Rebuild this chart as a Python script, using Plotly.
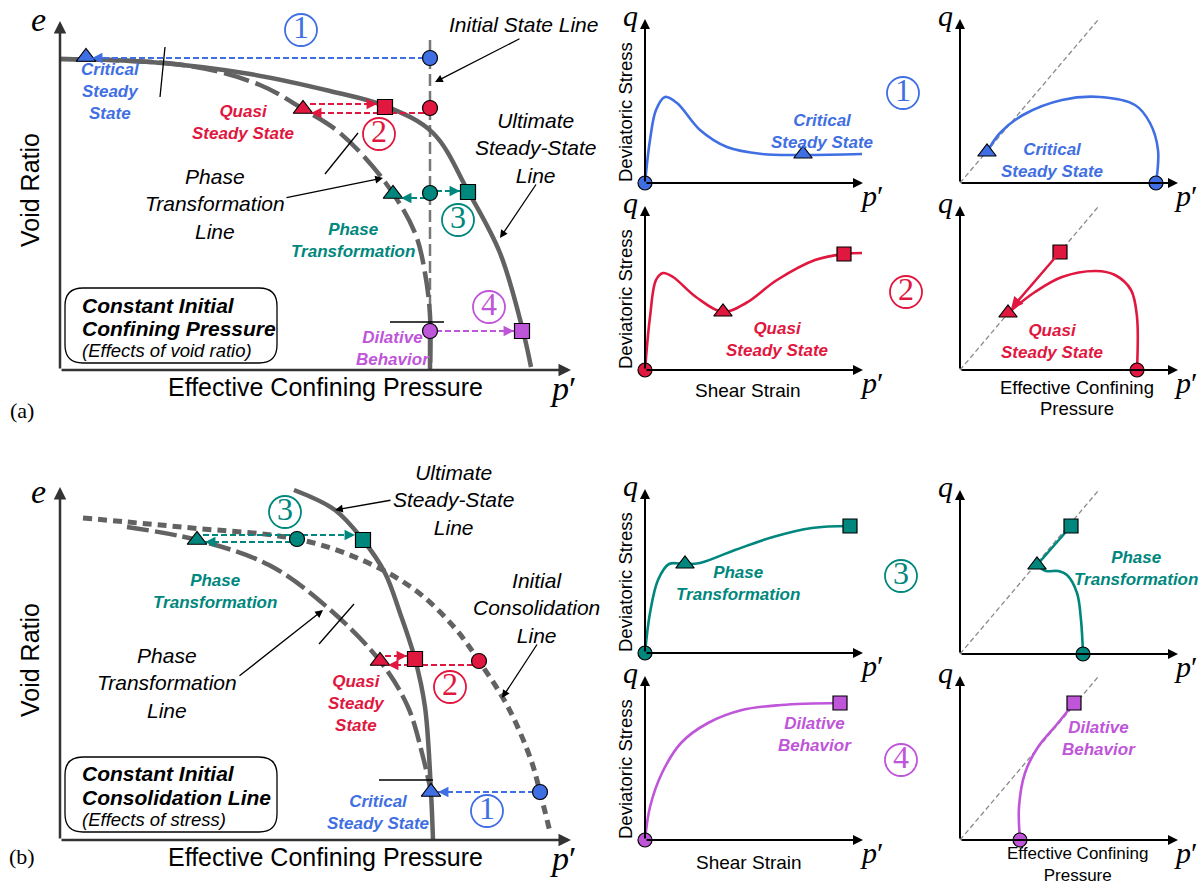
import plotly.graph_objects as go

W, H = 1198, 886
BLUE, RED, TEAL, PURPLE = "#3f6fe2", "#e0173f", "#00877d", "#bf55d9"
GRAY, LGRAY, DGRAY = "#626262", "#777777", "#8a8a8a"
SANS = "Liberation Sans, Arial, sans-serif"
SERIF = "Liberation Serif, Times New Roman, serif"

# ---------------- (a) constant initial confining pressure: e - p' plane ----------------
A_USSL_P = [0, 90, 190, 270, 325, 373, 409, 440, 463, 471]
A_USSL_E = [311, 308, 296, 279, 264, 237, 177, 117, 39, 3]
A_PTL_P = [0, 130, 200, 243, 280, 325, 355, 365, 370, 370]
A_PTL_E = [311, 304, 285, 261, 237, 188, 137, 97, 55, 0]
A_ISL_P = [370, 370]
A_ISL_E = [330, 0]
# initial states (circles) and end states (triangles / squares) for cases 1-4
A_START = {"1": (370, 312), "2": (370, 262), "3": (370, 177), "4": (370, 39)}
A_TRI = {"1": (26, 313), "2": (243, 261), "3": (333, 176)}
A_SQ = {"2": (325, 263), "3": (408, 178), "4": (462, 39)}

# ---------------- (b) constant initial consolidation line: e - p' plane ----------------
B_ICL_P = [23, 67, 132, 237, 302, 355, 394, 419, 448, 471, 480, 490]
B_ICL_E = [322, 318, 312, 301, 280, 250, 213, 179, 133, 80, 48, 8]
B_USSL_P = [234, 275, 303, 325, 340, 355, 365, 371, 373]
B_USSL_E = [350, 330, 300, 267, 227, 181, 133, 48, 0]
B_PTL_P = [67, 137, 209, 267, 320, 348, 363, 371]
B_PTL_E = [313, 300, 275, 233, 179, 133, 83, 48]
B_START = {"1": (480, 48), "2": (419, 179), "3": (237, 301)}
B_TRI = {"1": (371, 48), "2": (320, 179), "3": (137, 300)}
B_SQ = {"2": (355, 181), "3": (303, 300)}

# ---------------- stress-strain curves (q vs shear strain) ----------------
SS1_X = [0, 5, 11, 20, 32, 55, 82, 117, 158, 217]
SS1_Q = [0, 43, 73, 86, 80, 53, 36, 29, 28, 29]
SS2_X = [0, 5, 11, 18, 28, 51, 78, 101, 132, 170, 199, 217]
SS2_Q = [0, 53, 90, 97, 93, 73, 58, 67, 90, 110, 116, 117]
SS3_X = [0, 5, 13, 24, 40, 55, 90, 128, 167, 205]
SS3_Q = [0, 40, 73, 89, 89, 90, 103, 116, 125, 127]
SS4_X = [0, 5, 17, 36, 63, 97, 136, 195]
SS4_Q = [0, 33, 67, 97, 117, 130, 135, 137]

# ---------------- stress paths (q vs p') ----------------
SP1_P = [196, 198, 190, 175, 140, 102, 63, 40, 27]
SP1_Q = [0, 33, 60, 78, 86, 83, 68, 50, 31]
SP2_P = [177, 177, 171, 155, 136, 102, 75, 48]
SP2_Q = [0, 53, 80, 95, 99, 93, 78, 57]
SP2_SQ = (100, 118)
SP3_P = [123, 121, 117, 107, 98, 86, 77]
SP3_Q = [0, 34, 61, 79, 83, 83, 89]
SP3_SQ = (111, 128)
SP4_P = [60, 59, 65, 78, 98, 114]
SP4_Q = [0, 33, 67, 93, 117, 137]
CSL_P = [0, 138]
CSL_Q = [0, 163]

fig = go.Figure()
fig.update_layout(width=W, height=H, margin=dict(l=0, r=0, t=0, b=0),
                  paper_bgcolor="white", plot_bgcolor="rgba(0,0,0,0)", showlegend=False)

PANELS = {}


def add_panel(idx, ox, oy, x0, x1, y0, y1):
    s = "" if idx == 1 else str(idx)
    fig.layout["xaxis" + s] = dict(domain=[(ox + x0) / W, (ox + x1) / W], range=[x0, x1],
                                   visible=False, anchor="y" + s, fixedrange=True)
    fig.layout["yaxis" + s] = dict(domain=[1 - (oy - y0) / H, 1 - (oy - y1) / H], range=[y0, y1],
                                   visible=False, anchor="x" + s, fixedrange=True)
    PANELS[idx] = ("x" + s, "y" + s)


add_panel(1, 60, 370, -55, 530, -52, 365)     # (a) main
add_panel(2, 645, 183, -35, 285, -30, 178)    # (a) case 1 stress-strain
add_panel(3, 960, 183, -30, 236, -25, 178)    # (a) case 1 stress path
add_panel(4, 645, 370, -35, 285, -32, 178)    # (a) case 2 stress-strain
add_panel(5, 960, 370, -30, 236, -45, 178)    # (a) case 2 stress path
add_panel(6, 60, 840, -55, 540, -40, 370)     # (b) main
add_panel(7, 645, 653, -35, 285, -25, 178)    # (b) case 3 stress-strain
add_panel(8, 960, 654, -30, 236, -25, 178)    # (b) case 3 stress path
add_panel(9, 645, 840, -35, 285, -35, 178)    # (b) case 4 stress-strain
add_panel(10, 960, 840, -30, 236, -45, 178)   # (b) case 4 stress path

ann = []
shapes = []


def line(p, xs, ys, color, width, dash="solid", spline=True):
    xa, ya = PANELS[p]
    fig.add_trace(go.Scatter(x=xs, y=ys, xaxis=xa, yaxis=ya, mode="lines", hoverinfo="skip",
                             line=dict(color=color, width=width, dash=dash,
                                       shape="spline" if spline else "linear", smoothing=1.0)))


def marker(p, pt, color, symbol, size):
    xa, ya = PANELS[p]
    fig.add_trace(go.Scatter(x=[pt[0]], y=[pt[1]], xaxis=xa, yaxis=ya, mode="markers", cliponaxis=False,
                             hoverinfo="skip",
                             marker=dict(color=color, symbol=symbol, size=size,
                                         line=dict(color="black", width=1.2))))


def arrow(p, x0, y0, x1, y1, color="black", width=1.3, head=2, size=1.2):
    xa, ya = PANELS[p]
    ann.append(dict(x=x1, y=y1, ax=x0, ay=y0, xref=xa, yref=ya, axref=xa, ayref=ya, text="",
                    showarrow=True, arrowhead=head, arrowsize=size, arrowwidth=width, arrowcolor=color))


def dashed_arrow(p, x0, x1, y, color):
    line(p, [x0, x1], [y, y], color, 2.0, dash="6px,3px", spline=False)
    step = 8 if x1 > x0 else -8
    arrow(p, x1 - step, y, x1, y, color=color, width=1.9, head=2, size=1.1)


def text(p, x, y, s, size, color="black", family=SANS, xanchor="center", angle=0, align="center"):
    xa, ya = PANELS[p]
    ann.append(dict(x=x, y=y, xref=xa, yref=ya, text=s, showarrow=False, xanchor=xanchor,
                    yanchor="middle", align=align, textangle=angle,
                    font=dict(family=family, size=size, color=color)))


def seg(p, x0, y0, x1, y1, color="black", width=1.3):
    line(p, [x0, x1], [y0, y1], color, width, spline=False)


def axes(p, xtip, ytip, color="black", width=2.0):
    arrow(p, 0, 0, xtip, 0, color=color, width=width, head=2, size=1.0)
    arrow(p, 0, 0, 0, ytip, color=color, width=width, head=2, size=1.0)


def rbox(p, x0, y0, x1, y1, r):
    xa, ya = PANELS[p]
    path = (f"M{x0 + r},{y0} L{x1 - r},{y0} Q{x1},{y0} {x1},{y0 + r} L{x1},{y1 - r} "
            f"Q{x1},{y1} {x1 - r},{y1} L{x0 + r},{y1} Q{x0},{y1} {x0},{y1 - r} "
            f"L{x0},{y0 + r} Q{x0},{y0} {x0 + r},{y0} Z")
    shapes.append(dict(type="path", path=path, xref=xa, yref=ya, line=dict(color="black", width=1.3)))


def label(p, x, y, s, color, size=17):
    text(p, x, y, f"<b><i>{s}</i></b>", size, color)


def circled(p, x, y, digit, color):
    # case number: thin ring with a serif digit in its centre
    xa, ya = PANELS[p]
    fig.add_trace(go.Scatter(x=[x], y=[y], xaxis=xa, yaxis=ya, mode="markers+text", cliponaxis=False,
                             hoverinfo="skip", text=[digit], textposition="middle center",
                             textfont=dict(family=SERIF, size=32, color=color),
                             marker=dict(symbol="circle-open", size=32, color=color,
                                         line=dict(color=color, width=1.8))))


# ===================== (a) main =====================
line(1, A_ISL_P, A_ISL_E, LGRAY, 2.5, dash="12px,5px", spline=False)
line(1, A_USSL_P, A_USSL_E, GRAY, 4.5)
line(1, A_PTL_P, A_PTL_E, GRAY, 4.5, dash="26px,7px")
seg(1, 370, 32, 370, 0, GRAY, 4.5)
axes(1, 511, 349, color="#333333", width=2.5)

dashed_arrow(1, A_START["1"][0] - 6, A_TRI["1"][0] + 6, 312, BLUE)
dashed_arrow(1, A_TRI["2"][0] + 7, A_SQ["2"][0] - 8, 266, RED)
dashed_arrow(1, A_START["2"][0] - 6, A_TRI["2"][0] + 8, 257, RED)
dashed_arrow(1, A_START["3"][0] + 6, A_SQ["3"][0] - 8, 179, TEAL)
dashed_arrow(1, A_START["3"][0] - 4, A_TRI["3"][0] + 8, 172, TEAL)
dashed_arrow(1, A_START["4"][0] + 6, A_SQ["4"][0] - 8, 39, PURPLE)

for k, c in (("1", BLUE), ("2", RED), ("3", TEAL), ("4", PURPLE)):
    marker(1, A_START[k], c, "circle", 15)
for k, c in (("1", BLUE), ("2", RED), ("3", TEAL)):
    marker(1, A_TRI[k], c, "triangle-up", 17)
for k, c in (("2", RED), ("3", TEAL), ("4", PURPLE)):
    marker(1, A_SQ[k], c, "square", 15)

circled(1, 241, 340, "1", BLUE)
circled(1, 319, 236, "2", RED)
circled(1, 398, 150, "3", TEAL)
circled(1, 429, 63, "4", PURPLE)

label(1, 50, 279, "Critical<br>Steady<br>State", BLUE)
label(1, 183, 248, "Quasi<br>Steady State", RED)
label(1, 293, 130, "Phase<br>Transformation", TEAL)
label(1, 333, 22, "Dilative<br>Behavior", PURPLE)
text(1, 155, 166, "<i>Phase<br>Transformation<br>Line</i>", 21)
text(1, 463, 346, "<i>Initial State Line</i>", 21)
text(1, 475, 222, "<i>Ultimate<br>Steady-State<br>Line</i>", 21)

seg(1, 105, 323, 100, 273)
seg(1, 265, 196, 298, 237)
seg(1, 330, 48, 384, 48)
arrow(1, 225, 172, 323, 192)
arrow(1, 461, 332, 375, 288)
arrow(1, 477, 187, 440, 132)

rbox(1, 5, 7, 217, 82, 18)
text(1, 20, 65, "<b><i>Constant Initial</i></b>", 21, xanchor="left")
text(1, 20, 42, "<b><i>Confining Pressure</i></b>", 21, xanchor="left")
text(1, 20, 20, "<i>(Effects of void ratio)</i>", 18.5, xanchor="left")

text(1, -22, 351, "<i>e</i>", 34, family=SERIF)
text(1, 503, -18, "<i>p</i>′", 34, family=SERIF)
text(1, -30, 180, "Void Ratio", 25, angle=-90)
text(1, 265, -17, "Effective Confining Pressure", 25)
text(1, -38, -40, "(a)", 22, family=SERIF)

# ===================== (b) main =====================
line(6, B_ICL_P, B_ICL_E, GRAY, 5, dash="9px,6px")
line(6, B_USSL_P, B_USSL_E, GRAY, 4.5)
line(6, B_PTL_P, B_PTL_E, GRAY, 4.5, dash="22px,6px")
axes(6, 511, 353, color="#333333", width=2.5)

dashed_arrow(6, B_TRI["3"][0] + 6, B_SQ["3"][0] - 8, 305, TEAL)
dashed_arrow(6, B_START["3"][0] - 6, B_TRI["3"][0] + 8, 298, TEAL)
dashed_arrow(6, B_TRI["2"][0] + 5, B_SQ["2"][0] - 8, 184, RED)
dashed_arrow(6, B_START["2"][0] - 6, B_TRI["2"][0] + 8, 175, RED)
dashed_arrow(6, B_START["1"][0] - 6, B_TRI["1"][0] + 7, 48, BLUE)

for k, c in (("1", BLUE), ("2", RED), ("3", TEAL)):
    marker(6, B_START[k], c, "circle", 15)
    marker(6, B_TRI[k], c, "triangle-up", 17)
for k, c in (("2", RED), ("3", TEAL)):
    marker(6, B_SQ[k], c, "square", 15)

circled(6, 225, 328, "3", TEAL)
circled(6, 390, 153, "2", RED)
circled(6, 427, 29, "1", BLUE)

label(6, 155, 249, "Phase<br>Transformation", TEAL)
label(6, 296, 137, "Quasi<br>Steady<br>State", RED)
label(6, 318, 28, "Critical<br>Steady State", BLUE)
text(6, 393, 340, "<i>Ultimate<br>Steady-State<br>Line</i>", 21)
text(6, 476, 232, "<i>Initial<br>Consolidation<br>Line</i>", 21)
text(6, 107, 157, "<i>Phase<br>Transformation<br>Line</i>", 21)

arrow(6, 332, 340, 275, 330)
arrow(6, 478, 197, 442, 142)
arrow(6, 178, 163, 263, 230)
seg(6, 259, 196, 294, 236)
seg(6, 319, 60, 373, 60)

rbox(6, 5, 8, 217, 83, 18)
text(6, 20, 67, "<b><i>Constant Initial</i></b>", 21, xanchor="left")
text(6, 20, 43, "<b><i>Consolidation Line</i></b>", 21, xanchor="left")
text(6, 20, 21, "<i>(Effects of stress)</i>", 18.5, xanchor="left")

text(6, -22, 349, "<i>e</i>", 34, family=SERIF)
text(6, 503, -18, "<i>p</i>′", 34, family=SERIF)
text(6, -30, 180, "Void Ratio", 25, angle=-90)
text(6, 265, -17, "Effective Confining Pressure", 25)
text(6, -38, -16, "(b)", 22, family=SERIF)


# ===================== small panels =====================
def strain_panel(p, xs, qs, color, tri=None, sq=None):
    line(p, xs, qs, color, 2.6)
    axes(p, 218, 164)
    marker(p, (0, 0), color, "circle", 14)
    if tri:
        marker(p, tri, color, "triangle-up", 16)
    if sq:
        marker(p, sq, color, "square", 14)
    text(p, -15, 168, "<i>q</i>", 30, family=SERIF)
    text(p, 227, -12, "<i>p</i>′", 30, family=SERIF)
    text(p, -20, 71, "Deviatoric Stress", 18.5, angle=-90)


def path_panel(p, ps, qs, color, start, tri=None, sq=None, sq_arrow=False):
    line(p, CSL_P, CSL_Q, DGRAY, 1.3, dash="5px,3px", spline=False)
    line(p, ps, qs, color, 2.6)
    axes(p, 218, 164)
    if tri and sq:
        if sq_arrow:
            arrow(p, sq[0], sq[1], tri[0] + 3, tri[1] + 4, color=color, width=2.4, head=2, size=1.0)
        else:
            seg(p, sq[0], sq[1], tri[0], tri[1], color, 2.6)
    marker(p, start, color, "circle", 14)
    if tri:
        marker(p, tri, color, "triangle-up", 16)
    if sq:
        marker(p, sq, color, "square", 14)
    text(p, -15, 168, "<i>q</i>", 30, family=SERIF)
    text(p, 226, -12, "<i>p</i>′", 30, family=SERIF)


strain_panel(2, SS1_X, SS1_Q, BLUE, tri=(158, 29))
label(2, 177, 52, "Critical<br>Steady State", BLUE)
circled(2, 258, 90, "1", BLUE)
path_panel(3, SP1_P, SP1_Q, BLUE, (196, 0), tri=(27, 31))
label(3, 92, 23, "Critical<br>Steady State", BLUE)

strain_panel(4, SS2_X, SS2_Q, RED, tri=(78, 58), sq=(199, 116))
label(4, 132, 31, "Quasi<br>Steady State", RED)
circled(4, 261, 78, "2", RED)
text(4, 103, -20, "Shear Strain", 19)
path_panel(5, SP2_P, SP2_Q, RED, (177, 0), tri=(48, 57), sq=SP2_SQ, sq_arrow=True)
label(5, 92, 29, "Quasi<br>Steady State", RED)
text(5, 117, -17, "Effective Confining", 18.5)
text(5, 117, -38, "Pressure", 18.5)

strain_panel(7, SS3_X, SS3_Q, TEAL, tri=(40, 89), sq=(205, 127))
label(7, 93, 70, "Phase<br>Transformation", TEAL)
circled(7, 256, 77, "3", TEAL)
path_panel(8, SP3_P, SP3_Q, TEAL, (123, 0), tri=(77, 89), sq=SP3_SQ)
label(8, 176, 86, "Phase<br>Transformation", TEAL)

strain_panel(9, SS4_X, SS4_Q, PURPLE, sq=(195, 137))
label(9, 170, 106, "Dilative<br>Behavior", PURPLE)
circled(9, 256, 80, "4", PURPLE)
text(9, 104, -22, "Shear Strain", 19)
path_panel(10, SP4_P, SP4_Q, PURPLE, (60, 0), sq=(114, 137))
label(10, 139, 102, "Dilative<br>Behavior", PURPLE)
text(10, 117, -24, "Effective Confining<br>Pressure", 17)

fig.update_layout(annotations=ann, shapes=shapes)
fig.write_html("out.html")
